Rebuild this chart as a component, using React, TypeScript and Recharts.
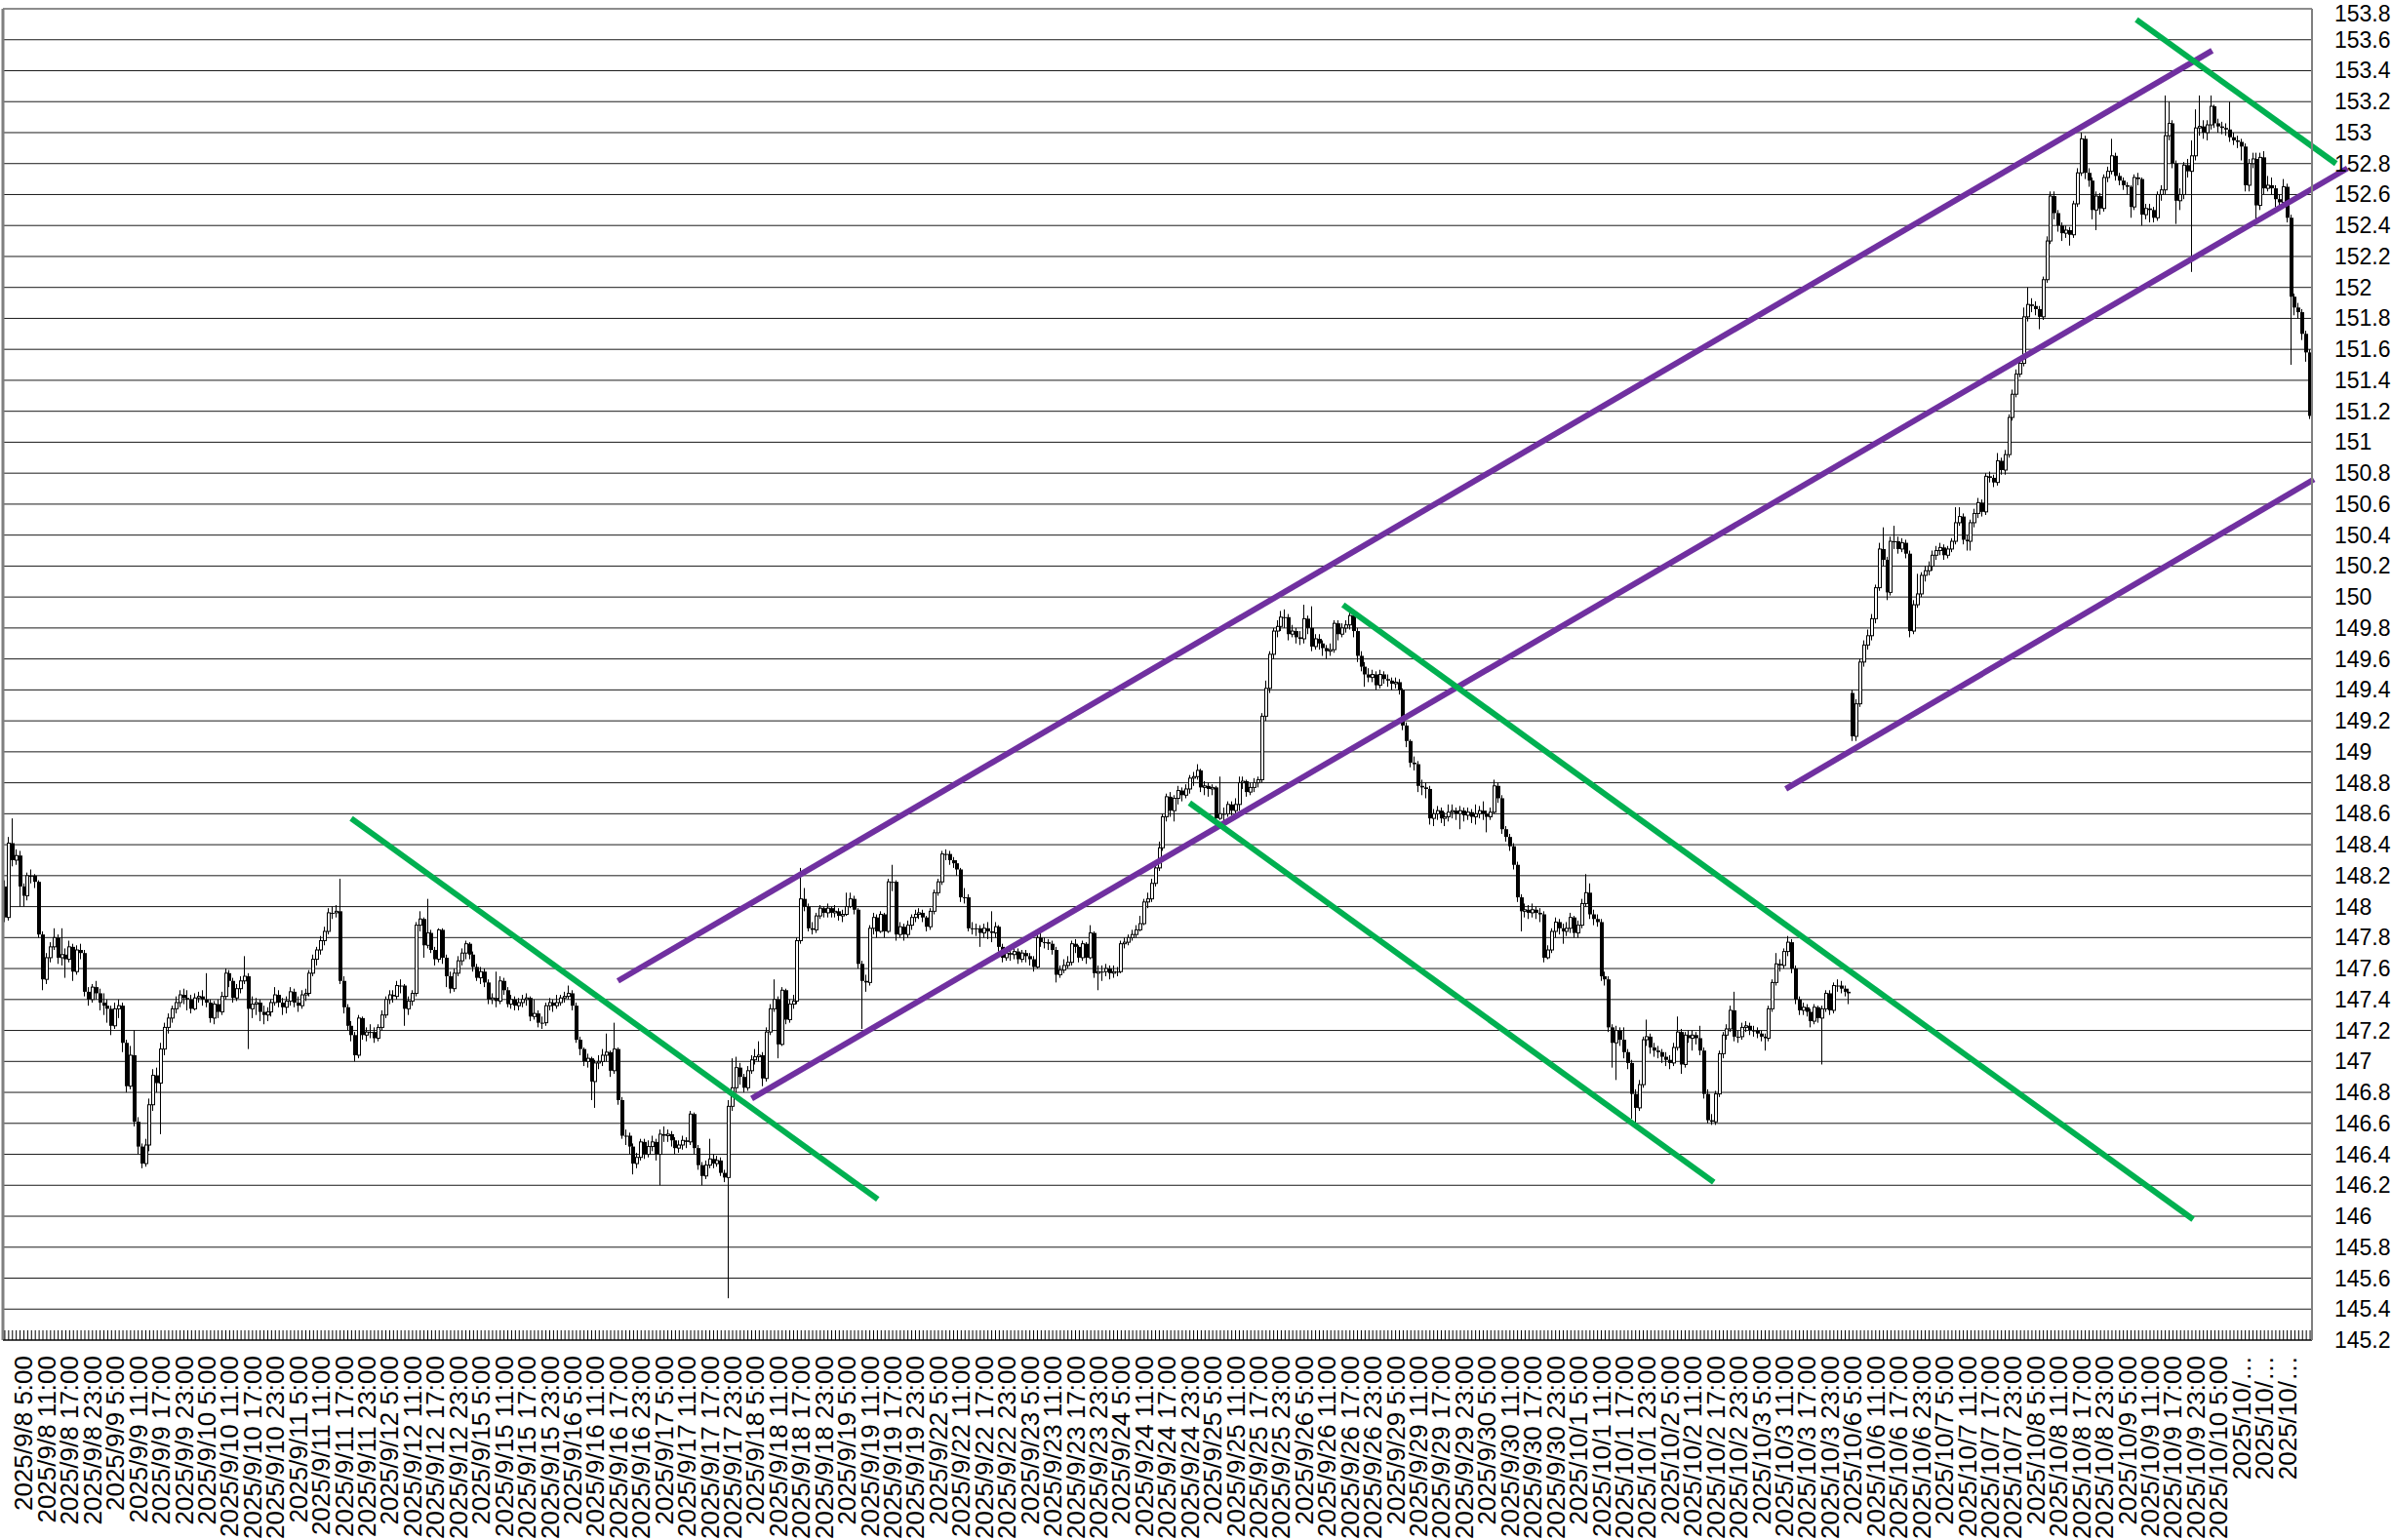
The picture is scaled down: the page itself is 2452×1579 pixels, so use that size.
import { ComposedChart, Bar, XAxis, YAxis, CartesianGrid, ReferenceLine } from "recharts";

// hourly USD/JPY candles, each entry is [close, high, low]; open = previous close
type Hour = [number, number, number];

const firstOpen = 148.13;

// 9/8 - 9/12
const week1: Hour[] = [
  [147.93, 148.17, 147.90], [148.41, 148.45, 147.91], [148.30, 148.57, 148.26], [148.33, 148.37, 148.27], [148.13, 148.36, 148.00],
  [148.07, 148.15, 148.00], [148.20, 148.22, 148.04], [148.20, 148.24, 148.15], [148.16, 148.21, 148.12], [147.82, 148.17, 147.80],
  [147.53, 147.84, 147.46], [147.67, 147.70, 147.50], [147.74, 147.77, 147.64], [147.80, 147.86, 147.72], [147.67, 147.82, 147.63],
  [147.69, 147.86, 147.62], [147.66, 147.73, 147.54], [147.74, 147.78, 147.64], [147.58, 147.76, 147.52], [147.72, 147.75, 147.56],
  [147.70, 147.76, 147.66], [147.45, 147.72, 147.42], [147.40, 147.48, 147.36], [147.48, 147.50, 147.38], [147.44, 147.52, 147.40],
  [147.38, 147.47, 147.33], [147.36, 147.44, 147.30], [147.34, 147.40, 147.25], [147.23, 147.36, 147.17], [147.34, 147.38, 147.21],
  [147.36, 147.40, 147.28], [147.12, 147.38, 147.06], [146.84, 147.14, 146.80], [147.04, 147.10, 146.82], [146.61, 147.20, 146.58],
  [146.45, 146.64, 146.40], [146.34, 146.47, 146.31], [146.46, 146.50, 146.32], [146.72, 146.76, 146.42], [146.91, 146.95, 146.68],
  [146.86, 146.96, 146.80], [147.08, 147.12, 146.53], [147.22, 147.25, 147.04], [147.28, 147.31, 147.18], [147.34, 147.36, 147.25],
  [147.38, 147.42, 147.31], [147.43, 147.46, 147.35], [147.41, 147.47, 147.37], [147.40, 147.46, 147.33], [147.34, 147.43, 147.31],
  [147.41, 147.44, 147.33], [147.42, 147.45, 147.38], [147.40, 147.46, 147.36], [147.38, 147.57, 147.35], [147.28, 147.40, 147.25],
  [147.37, 147.39, 147.24], [147.32, 147.40, 147.28], [147.42, 147.45, 147.30], [147.57, 147.60, 147.40], [147.52, 147.59, 147.48],
  [147.41, 147.54, 147.38], [147.47, 147.50, 147.39], [147.52, 147.55, 147.44], [147.55, 147.68, 147.50], [147.34, 147.57, 147.08],
  [147.37, 147.42, 147.28], [147.38, 147.41, 147.30], [147.32, 147.40, 147.26], [147.30, 147.36, 147.24], [147.32, 147.35, 147.26],
  [147.38, 147.40, 147.29], [147.43, 147.48, 147.36], [147.38, 147.46, 147.35], [147.35, 147.41, 147.30], [147.39, 147.42, 147.31],
  [147.45, 147.48, 147.36], [147.38, 147.47, 147.35], [147.36, 147.42, 147.32], [147.43, 147.46, 147.34], [147.44, 147.47, 147.39],
  [147.57, 147.59, 147.42], [147.66, 147.69, 147.55], [147.72, 147.74, 147.62], [147.78, 147.81, 147.69], [147.84, 147.87, 147.75],
  [147.96, 147.99, 147.82], [147.96, 148.00, 147.92], [147.97, 148.01, 147.93], [147.52, 148.18, 147.50], [147.35, 147.55, 147.31],
  [147.23, 147.37, 147.20], [147.17, 147.26, 147.13], [147.04, 147.19, 147.00], [147.28, 147.30, 147.02], [147.17, 147.29, 147.14],
  [147.19, 147.22, 147.13], [147.19, 147.24, 147.15], [147.15, 147.22, 147.12], [147.22, 147.24, 147.13], [147.30, 147.33, 147.20],
  [147.40, 147.42, 147.28], [147.43, 147.46, 147.37], [147.42, 147.46, 147.38], [147.49, 147.52, 147.40], [147.49, 147.53, 147.44],
  [147.34, 147.50, 147.23], [147.39, 147.42, 147.30], [147.44, 147.46, 147.36], [147.88, 147.90, 147.42], [147.92, 147.97, 147.84],
  [147.75, 147.93, 147.67], [147.83, 148.05, 147.73], [147.72, 147.85, 147.70], [147.66, 147.74, 147.62], [147.85, 147.86, 147.64],
  [147.67, 147.86, 147.63], [147.55, 147.69, 147.48], [147.47, 147.58, 147.44], [147.57, 147.60, 147.45], [147.65, 147.68, 147.55],
  [147.70, 147.73, 147.62], [147.76, 147.78, 147.66], [147.69, 147.77, 147.66], [147.61, 147.71, 147.58], [147.54, 147.63, 147.52],
];

// 9/15 - 9/19
const week2: Hour[] = [
  [147.58, 147.61, 147.50], [147.51, 147.60, 147.48], [147.40, 147.53, 147.37], [147.41, 147.44, 147.37], [147.39, 147.58, 147.35],
  [147.52, 147.55, 147.37], [147.46, 147.54, 147.43], [147.37, 147.48, 147.35], [147.40, 147.43, 147.34], [147.36, 147.42, 147.33],
  [147.38, 147.41, 147.33], [147.40, 147.43, 147.35], [147.41, 147.44, 147.36], [147.29, 147.42, 147.26], [147.31, 147.40, 147.27],
  [147.25, 147.33, 147.22], [147.25, 147.29, 147.21], [147.36, 147.38, 147.23], [147.38, 147.41, 147.33], [147.36, 147.40, 147.32],
  [147.38, 147.43, 147.34], [147.41, 147.43, 147.36], [147.42, 147.45, 147.38], [147.44, 147.49, 147.40], [147.36, 147.46, 147.33],
  [147.14, 147.38, 147.12], [147.08, 147.16, 147.04], [147.00, 147.09, 146.97], [147.02, 147.05, 146.96], [146.87, 147.03, 146.75],
  [146.99, 147.01, 146.70], [147.00, 147.04, 146.95], [147.04, 147.08, 146.97], [147.06, 147.18, 147.00], [146.94, 147.07, 146.90],
  [147.08, 147.25, 146.92], [146.75, 147.09, 146.72], [146.52, 146.77, 146.50], [146.52, 146.56, 146.46], [146.45, 146.54, 146.40],
  [146.34, 146.47, 146.27], [146.38, 146.41, 146.31], [146.48, 146.50, 146.36], [146.40, 146.50, 146.37], [146.45, 146.49, 146.38],
  [146.48, 146.52, 146.42], [146.40, 146.50, 146.36], [146.53, 146.56, 146.20], [146.52, 146.58, 146.48], [146.53, 146.56, 146.48],
  [146.49, 146.55, 146.45], [146.44, 146.51, 146.40], [146.46, 146.49, 146.41], [146.49, 146.52, 146.43], [146.48, 146.51, 146.44],
  [146.66, 146.68, 146.46], [146.44, 146.67, 146.40], [146.33, 146.46, 146.30], [146.26, 146.35, 146.20], [146.33, 146.36, 146.24],
  [146.37, 146.50, 146.31], [146.34, 146.40, 146.31], [146.36, 146.39, 146.32], [146.28, 146.38, 146.26], [146.25, 146.30, 146.22],
  [146.71, 146.75, 145.47], [146.83, 147.02, 146.68], [146.96, 147.03, 146.80], [146.90, 146.99, 146.85], [146.83, 146.92, 146.80],
  [146.94, 146.97, 146.81], [147.01, 147.04, 146.92], [147.03, 147.08, 146.98], [147.04, 147.13, 147.00], [146.89, 147.06, 146.84],
  [147.19, 147.22, 146.87], [147.34, 147.37, 147.17], [147.40, 147.53, 147.32], [147.11, 147.42, 147.02], [147.46, 147.48, 147.10],
  [147.27, 147.47, 147.24], [147.37, 147.40, 147.25], [147.39, 147.43, 147.34], [147.78, 147.80, 147.37], [148.05, 148.25, 147.76],
  [148.00, 148.12, 147.97], [147.86, 148.02, 147.84], [147.85, 147.90, 147.82], [147.94, 147.96, 147.83], [147.99, 148.01, 147.92],
  [147.96, 148.00, 147.93], [147.99, 148.02, 147.93], [147.96, 148.00, 147.93], [147.97, 148.01, 147.93], [147.94, 147.99, 147.91],
  [147.95, 147.98, 147.90], [148.00, 148.09, 147.94], [148.05, 148.09, 147.99], [147.98, 148.07, 147.95], [147.63, 147.99, 147.60],
  [147.52, 147.65, 147.21], [147.51, 147.56, 147.45], [147.86, 147.88, 147.49], [147.93, 147.96, 147.82], [147.84, 147.95, 147.80],
  [147.95, 147.97, 147.83], [147.84, 147.96, 147.80], [148.16, 148.18, 147.83], [148.16, 148.27, 148.10], [147.82, 148.17, 147.78],
  [147.87, 147.90, 147.80], [147.82, 147.89, 147.78], [147.88, 147.91, 147.80], [147.93, 147.95, 147.85], [147.95, 147.98, 147.90],
  [147.96, 147.99, 147.92], [147.93, 147.98, 147.90], [147.87, 147.94, 147.84], [147.97, 147.99, 147.85], [148.09, 148.11, 147.95],
];

// 9/22 - 9/26
const week3: Hour[] = [
  [148.16, 148.18, 148.07], [148.34, 148.36, 148.14], [148.34, 148.37, 148.30], [148.30, 148.36, 148.27], [148.28, 148.32, 148.25],
  [148.24, 148.30, 148.20], [148.06, 148.25, 148.03], [148.06, 148.12, 148.02], [147.86, 148.08, 147.84], [147.86, 147.90, 147.82],
  [147.86, 147.89, 147.81], [147.83, 147.88, 147.74], [147.86, 147.89, 147.80], [147.84, 147.90, 147.79], [147.83, 147.97, 147.77],
  [147.87, 147.90, 147.80], [147.74, 147.88, 147.71], [147.67, 147.76, 147.64], [147.70, 147.73, 147.65], [147.69, 147.73, 147.65],
  [147.71, 147.74, 147.66], [147.66, 147.73, 147.63], [147.70, 147.72, 147.64], [147.68, 147.72, 147.64], [147.66, 147.70, 147.62],
  [147.61, 147.68, 147.58], [147.80, 147.82, 147.60], [147.77, 147.83, 147.74], [147.77, 147.80, 147.73], [147.76, 147.79, 147.72],
  [147.72, 147.78, 147.69], [147.56, 147.74, 147.51], [147.59, 147.62, 147.54], [147.62, 147.66, 147.57], [147.64, 147.68, 147.60],
  [147.76, 147.78, 147.62], [147.74, 147.79, 147.70], [147.67, 147.75, 147.64], [147.76, 147.78, 147.65], [147.67, 147.77, 147.63],
  [147.83, 147.88, 147.66], [147.57, 147.84, 147.54], [147.58, 147.62, 147.46], [147.58, 147.62, 147.52], [147.60, 147.63, 147.55],
  [147.57, 147.62, 147.53], [147.58, 147.62, 147.54], [147.58, 147.61, 147.55], [147.76, 147.78, 147.57], [147.77, 147.80, 147.73],
  [147.80, 147.82, 147.75], [147.82, 147.85, 147.78], [147.85, 147.88, 147.80], [147.89, 147.94, 147.84], [148.03, 148.05, 147.88],
  [148.05, 148.09, 147.99], [148.15, 148.18, 148.03], [148.25, 148.28, 148.13], [148.38, 148.42, 148.23], [148.58, 148.60, 148.36],
  [148.71, 148.73, 148.55], [148.62, 148.74, 148.58], [148.70, 148.72, 148.55], [148.75, 148.78, 148.66], [148.72, 148.77, 148.68],
  [148.76, 148.79, 148.70], [148.83, 148.85, 148.73], [148.84, 148.87, 148.78], [148.88, 148.92, 148.82], [148.77, 148.89, 148.74],
  [148.78, 148.81, 148.72], [148.76, 148.80, 148.71], [148.77, 148.79, 148.72], [148.57, 148.78, 148.55], [148.60, 148.84, 148.56],
  [148.60, 148.64, 148.55], [148.66, 148.68, 148.58], [148.62, 148.68, 148.59], [148.66, 148.70, 148.60], [148.80, 148.84, 148.62],
  [148.81, 148.84, 148.76], [148.74, 148.82, 148.71], [148.77, 148.80, 148.72], [148.80, 148.83, 148.74], [148.82, 148.84, 148.77],
  [149.23, 149.25, 148.80], [149.41, 149.46, 149.20], [149.63, 149.65, 149.38], [149.78, 149.80, 149.60], [149.81, 149.85, 149.74],
  [149.87, 149.91, 149.78], [149.87, 149.92, 149.80], [149.76, 149.89, 149.72], [149.78, 149.82, 149.74], [149.74, 149.80, 149.70],
  [149.73, 149.78, 149.69], [149.86, 149.95, 149.70], [149.80, 149.88, 149.76], [149.68, 149.94, 149.65], [149.73, 149.76, 149.66],
  [149.70, 149.76, 149.66], [149.67, 149.72, 149.62], [149.65, 149.69, 149.60], [149.66, 149.70, 149.62], [149.83, 149.85, 149.64],
  [149.76, 149.85, 149.72], [149.80, 149.83, 149.74], [149.82, 149.85, 149.77], [149.88, 149.91, 149.79], [149.78, 149.89, 149.74],
  [149.62, 149.80, 149.58], [149.55, 149.65, 149.52], [149.50, 149.58, 149.42], [149.48, 149.54, 149.45], [149.50, 149.53, 149.45],
  [149.43, 149.52, 149.40], [149.50, 149.53, 149.41], [149.47, 149.52, 149.44], [149.46, 149.50, 149.42], [149.44, 149.48, 149.40],
];

// 9/29 - 10/3
const week4: Hour[] = [
  [149.45, 149.48, 149.41], [149.40, 149.47, 149.37], [149.17, 149.41, 149.14], [149.07, 149.19, 149.03], [148.93, 149.08, 148.90],
  [148.92, 148.97, 148.88], [148.78, 148.94, 148.74], [148.77, 148.82, 148.72], [148.76, 148.80, 148.70], [148.57, 148.78, 148.53],
  [148.60, 148.63, 148.52], [148.62, 148.65, 148.56], [148.57, 148.64, 148.54], [148.58, 148.61, 148.52], [148.61, 148.66, 148.55],
  [148.62, 148.66, 148.57], [148.60, 148.64, 148.56], [148.62, 148.65, 148.50], [148.59, 148.64, 148.55], [148.61, 148.64, 148.56],
  [148.58, 148.63, 148.54], [148.60, 148.66, 148.53], [148.62, 148.65, 148.57], [148.60, 148.68, 148.56], [148.58, 148.62, 148.48],
  [148.61, 148.64, 148.56], [148.78, 148.82, 148.60], [148.70, 148.80, 148.67], [148.50, 148.72, 148.47], [148.45, 148.52, 148.42],
  [148.39, 148.47, 148.36], [148.27, 148.41, 148.24], [148.06, 148.29, 148.03], [147.97, 148.08, 147.84], [147.98, 148.02, 147.93],
  [147.96, 148.01, 147.92], [147.98, 148.02, 147.93], [147.96, 148.00, 147.92], [147.95, 147.99, 147.90], [147.67, 147.97, 147.64],
  [147.72, 147.75, 147.66], [147.84, 147.86, 147.70], [147.90, 147.93, 147.80], [147.86, 147.92, 147.82], [147.84, 147.89, 147.76],
  [147.86, 147.90, 147.81], [147.93, 147.96, 147.83], [147.83, 147.94, 147.80], [147.88, 147.91, 147.80], [148.02, 148.05, 147.86],
  [148.09, 148.21, 148.00], [147.95, 148.15, 147.92], [147.92, 147.98, 147.88], [147.90, 147.95, 147.87], [147.55, 147.92, 147.52],
  [147.53, 147.58, 147.49], [147.22, 147.55, 147.19], [147.12, 147.24, 146.96], [147.20, 147.23, 146.88], [147.14, 147.22, 147.10],
  [147.06, 147.22, 147.02], [146.99, 147.08, 146.95], [146.79, 147.01, 146.63], [146.70, 146.82, 146.60], [146.85, 146.88, 146.68],
  [147.14, 147.16, 146.83], [147.16, 147.27, 147.10], [147.09, 147.18, 147.05], [147.07, 147.12, 147.03], [147.06, 147.10, 147.02],
  [147.03, 147.08, 146.99], [147.01, 147.06, 146.97], [146.99, 147.04, 146.95], [147.09, 147.12, 146.97], [147.19, 147.29, 147.07],
  [146.98, 147.21, 146.92], [147.17, 147.19, 146.96], [147.15, 147.20, 147.12], [147.17, 147.20, 147.07], [147.15, 147.19, 147.11],
  [147.07, 147.23, 147.04], [146.79, 147.09, 146.76], [146.62, 146.82, 146.60], [146.61, 146.66, 146.59], [146.79, 146.81, 146.59],
  [147.05, 147.07, 146.77], [147.17, 147.19, 147.02], [147.21, 147.24, 147.14], [147.33, 147.36, 147.19], [147.16, 147.45, 147.13],
  [147.16, 147.20, 147.12], [147.22, 147.25, 147.14], [147.23, 147.26, 147.19], [147.20, 147.25, 147.17], [147.20, 147.23, 147.16],
  [147.18, 147.22, 147.15], [147.16, 147.20, 147.13], [147.15, 147.18, 147.07], [147.34, 147.36, 147.13], [147.51, 147.53, 147.32],
  [147.63, 147.70, 147.49], [147.62, 147.66, 147.58], [147.71, 147.73, 147.60], [147.77, 147.81, 147.68], [147.60, 147.79, 147.57],
  [147.40, 147.62, 147.37], [147.33, 147.42, 147.30], [147.35, 147.38, 147.30], [147.32, 147.37, 147.29], [147.26, 147.34, 147.22],
  [147.35, 147.37, 147.24], [147.28, 147.36, 147.25], [147.34, 147.36, 146.98], [147.44, 147.46, 147.32], [147.33, 147.46, 147.30],
  [147.49, 147.51, 147.31], [147.49, 147.53, 147.45], [147.47, 147.52, 147.44], [147.45, 147.49, 147.42], [147.44, 147.47, 147.37],
];

// 10/6 - 10/10, opens with a gap
const week5Open = 149.38;
const week5: Hour[] = [
  [149.10, 149.40, 149.07], [149.31, 149.34, 149.07], [149.58, 149.60, 149.29], [149.69, 149.72, 149.55], [149.75, 149.79, 149.66],
  [149.86, 149.89, 149.72], [150.06, 150.08, 149.83], [150.31, 150.35, 150.04], [150.24, 150.45, 150.20], [150.03, 150.26, 149.98],
  [150.36, 150.39, 150.01], [150.36, 150.46, 150.31], [150.31, 150.39, 150.28], [150.35, 150.38, 150.29], [150.28, 150.37, 150.25],
  [149.78, 150.30, 149.74], [149.95, 149.98, 149.76], [150.02, 150.15, 149.93], [150.14, 150.16, 150.00], [150.17, 150.20, 150.10],
  [150.20, 150.23, 150.14], [150.27, 150.30, 150.17], [150.30, 150.33, 150.24], [150.32, 150.35, 150.27], [150.27, 150.34, 150.24],
  [150.31, 150.33, 150.25], [150.36, 150.38, 150.29], [150.48, 150.58, 150.34], [150.52, 150.58, 150.46], [150.37, 150.54, 150.34],
  [150.36, 150.40, 150.30], [150.48, 150.50, 150.30], [150.54, 150.57, 150.45], [150.61, 150.64, 150.51], [150.55, 150.63, 150.52],
  [150.78, 150.80, 150.53], [150.77, 150.81, 150.74], [150.74, 150.79, 150.71], [150.88, 150.93, 150.72], [150.82, 150.90, 150.79],
  [150.92, 150.95, 150.79], [151.16, 151.18, 150.90], [151.31, 151.34, 151.14], [151.44, 151.47, 151.29], [151.51, 151.54, 151.42],
  [151.81, 151.87, 151.49], [151.89, 152.00, 151.78], [151.88, 151.93, 151.84], [151.86, 151.91, 151.82], [151.81, 151.88, 151.73],
  [152.05, 152.07, 151.79], [152.30, 152.33, 152.03], [152.59, 152.62, 152.28], [152.48, 152.62, 152.44], [152.40, 152.50, 152.36],
  [152.35, 152.42, 152.30], [152.37, 152.40, 152.32], [152.34, 152.39, 152.27], [152.54, 152.56, 152.32], [152.74, 152.77, 152.52],
  [152.96, 153.00, 152.72], [152.74, 152.98, 152.70], [152.69, 152.77, 152.65], [152.50, 152.71, 152.44], [152.59, 152.62, 152.37],
  [152.51, 152.61, 152.47], [152.71, 152.73, 152.49], [152.75, 152.78, 152.68], [152.85, 152.96, 152.73], [152.72, 152.87, 152.69],
  [152.69, 152.74, 152.66], [152.66, 152.71, 152.63], [152.65, 152.68, 152.60], [152.52, 152.66, 152.45], [152.71, 152.73, 152.50],
  [152.70, 152.74, 152.66], [152.47, 152.71, 152.40], [152.51, 152.54, 152.44], [152.50, 152.54, 152.42], [152.45, 152.52, 152.42],
  [152.60, 152.62, 152.43], [152.63, 152.66, 152.56], [152.98, 153.24, 152.60], [153.06, 153.20, 152.95], [152.80, 153.08, 152.77],
  [152.56, 152.82, 152.41], [152.60, 152.64, 152.50], [152.79, 152.81, 152.57], [152.75, 152.83, 152.71], [152.85, 152.95, 152.10],
  [153.03, 153.15, 152.82], [153.04, 153.24, 152.98], [153.00, 153.08, 152.96], [153.05, 153.08, 152.95], [153.17, 153.24, 153.02],
  [153.06, 153.18, 153.03], [153.04, 153.09, 153.00], [153.03, 153.07, 152.99], [153.02, 153.06, 152.98], [152.97, 153.20, 152.94],
  [152.95, 153.00, 152.92], [152.94, 152.98, 152.90], [152.91, 152.96, 152.82], [152.66, 152.93, 152.62], [152.80, 152.83, 152.62],
  [152.83, 152.87, 152.77], [152.53, 152.87, 152.42], [152.84, 152.87, 152.50], [152.64, 152.88, 152.60], [152.66, 152.72, 152.62],
  [152.64, 152.71, 152.60], [152.57, 152.66, 152.52], [152.55, 152.60, 152.52], [152.65, 152.70, 152.53], [152.45, 152.67, 152.42],
  [151.94, 152.47, 151.50], [151.87, 151.96, 151.82], [151.84, 151.90, 151.80], [151.70, 151.86, 151.66], [151.58, 151.72, 151.52],
  [151.17, 151.60, 151.15],
];

const tradingDays = [
  "9/8", "9/9", "9/10", "9/11", "9/12", "9/15", "9/16", "9/17", "9/18", "9/19",
  "9/22", "9/23", "9/24", "9/25", "9/26", "9/29", "9/30", "10/1", "10/2", "10/3",
  "10/6", "10/7", "10/8", "10/9", "10/10",
];
const labelHours = ["5:00", "11:00", "17:00", "23:00"];

const yTicks = [
  145.2, 145.4, 145.6, 145.8, 146, 146.2, 146.4, 146.6, 146.8, 147, 147.2, 147.4, 147.6, 147.8, 148,
  148.2, 148.4, 148.6, 148.8, 149, 149.2, 149.4, 149.6, 149.8, 150, 150.2, 150.4, 150.6, 150.8, 151,
  151.2, 151.4, 151.6, 151.8, 152, 152.2, 152.4, 152.6, 152.8, 153, 153.2, 153.4, 153.6, 153.8,
];

// trend lines: [[candle index, price], [candle index, price]]
const purpleLines = [
  [[160.9, 147.52], [579.3, 153.53]],
  [[196.0, 146.76], [614.8, 152.77]],
  [[467.4, 148.76], [606.0, 150.76]],
];
const greenLines = [
  [[90.9, 148.57], [229.1, 146.11]],
  [[310.9, 148.67], [448.5, 146.22]],
  [[351.2, 149.95], [574.3, 145.98]],
  [[559.4, 153.73], [611.8, 152.8]],
];

const weeks = [
  { open: firstOpen, hours: week1 },
  { open: undefined, hours: week2 },
  { open: undefined, hours: week3 },
  { open: undefined, hours: week4 },
  { open: week5Open, hours: week5 },
];

const candles: any[] = [];
let prevClose = firstOpen;
weeks.forEach((w) => {
  w.hours.forEach(([close, high, low], k) => {
    const open = k === 0 && w.open !== undefined ? w.open : prevClose;
    const hi = Math.max(high, open, close);
    const lo = Math.min(low, open, close);
    candles.push({ i: candles.length, open, close, high: hi, low: lo, range: [lo, hi] });
    prevClose = close;
  });
});

const tickLabels: Record<number, string> = {};
tradingDays.forEach((d, di) => {
  labelHours.forEach((h, hi) => {
    tickLabels[24 * di + 5 + 6 * hi] = `2025/${d} ${h}`;
  });
});

const FONT = "'Liberation Sans', Arial, sans-serif";

function CandleShape(props: any) {
  const { x, y, width, height, payload } = props;
  if (!payload || x == null || y == null) return null;
  const top = Math.min(y, y + height);
  const bottom = Math.max(y, y + height);
  const k = (bottom - top) / (payload.high - payload.low || 1);
  const yo = top + (payload.high - payload.open) * k;
  const yc = top + (payload.high - payload.close) * k;
  const cx = Math.floor(x + width / 2) + 0.5;
  const bt = Math.min(yo, yc);
  const bh = Math.max(Math.abs(yc - yo), 1);
  const up = payload.close > payload.open;
  return (
    <g>
      <line x1={cx} x2={cx} y1={top} y2={bottom} stroke="#000" strokeWidth={1} />
      {up ? (
        <rect x={cx - 1} y={bt} width={3} height={bh} fill="#fff" stroke="#000" strokeWidth={1} />
      ) : (
        <rect x={cx - 1.5} y={bt} width={4} height={bh} fill="#000" />
      )}
    </g>
  );
}

function XTick(props: any) {
  const { x, y, payload } = props;
  const label = tickLabels[payload.value];
  const ty = y + 16;
  const text = label && label.length > 15 ? label.slice(0, 8) + "…" : label;
  return (
    <g>
      <line x1={x} x2={x} y1={y - 10} y2={y} stroke="#000" strokeWidth={1} />
      {text && (
        <text
          x={x}
          y={ty}
          transform={`rotate(-90 ${x} ${ty})`}
          textAnchor="end"
          dominantBaseline="central"
          fontSize={26}
          fontFamily={FONT}
          fill="#000"
        >
          {text}
        </text>
      )}
    </g>
  );
}

const fmtPrice = (v: number) => String(Number(v.toFixed(1)));

// price labels on the right; the top one is nudged so it stays inside the picture
function YTick(props: any) {
  const { x, y, payload } = props;
  const ty = Math.max(y, 14);
  return (
    <text x={x} y={ty} dominantBaseline="central" textAnchor="start" fontSize={23} fontFamily={FONT} fill="#000">
      {fmtPrice(payload.value)}
    </text>
  );
}

export default function App() {
  const n = candles.length;
  return (
    <div style={{ position: "absolute", left: 0, top: 0, width: 2452, height: 1579, background: "#fff" }}>
      <ComposedChart
        width={2452}
        height={1579}
        data={candles}
        margin={{ top: 9, right: 0, left: 3, bottom: 0 }}
        barCategoryGap={0}
      >
        <CartesianGrid vertical={false} stroke="#1a1a1a" strokeWidth={1} />
        <XAxis
          dataKey="i"
          type="category"
          interval={0}
          height={205}
          tickSize={0}
          tickMargin={0}
          tickLine={false}
          axisLine={{ stroke: "#000", strokeWidth: 1 }}
          tick={<XTick />}
        />
        <XAxis xAxisId="num" dataKey="i" type="number" domain={[-0.5, n - 0.5]} allowDataOverflow hide />
        <YAxis
          orientation="right"
          type="number"
          domain={[145.2, 153.8]}
          ticks={yTicks}
          interval={0}
          allowDataOverflow
          width={82}
          tickSize={0}
          tickMargin={23}
          tickLine={false}
          axisLine={{ stroke: "#7f7f7f", strokeWidth: 2 }}
          tick={<YTick />}
        />
        <Bar dataKey="range" barSize={3} isAnimationActive={false} shape={(p: any) => <CandleShape {...p} />} />
        <ReferenceLine xAxisId="num" x={-0.5} stroke="#7f7f7f" strokeWidth={3} />
        {purpleLines.map((s, k) => (
          <ReferenceLine
            key={"p" + k}
            xAxisId="num"
            segment={[{ x: s[0][0], y: s[0][1] }, { x: s[1][0], y: s[1][1] }]}
            stroke="#7030A0"
            strokeWidth={6}
            ifOverflow="visible"
          />
        ))}
        {greenLines.map((s, k) => (
          <ReferenceLine
            key={"g" + k}
            xAxisId="num"
            segment={[{ x: s[0][0], y: s[0][1] }, { x: s[1][0], y: s[1][1] }]}
            stroke="#00B050"
            strokeWidth={6}
            ifOverflow="visible"
          />
        ))}
      </ComposedChart>
    </div>
  );
}
